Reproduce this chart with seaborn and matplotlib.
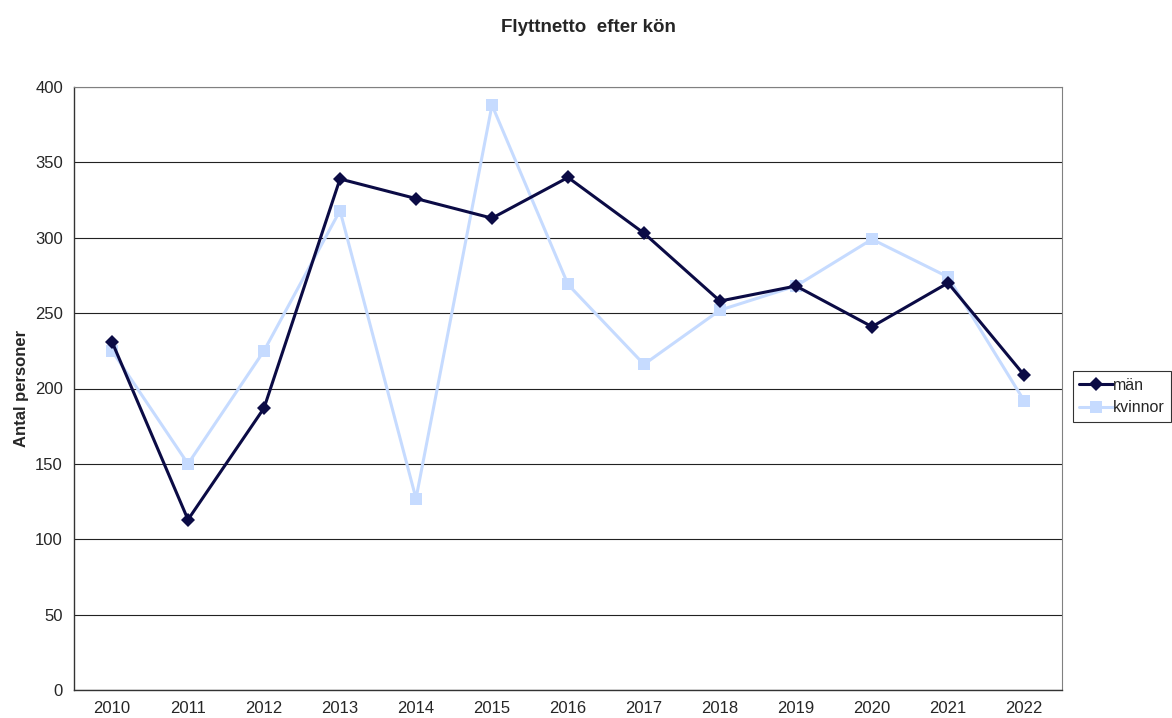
import matplotlib.pyplot as plt
import seaborn as sns
import pandas as pd
import numpy as np

years = ['2010', '2011', '2012', '2013', '2014', '2015', '2016',
         '2017', '2018', '2019', '2020', '2021', '2022']
man = [231, 113, 187, 339, 326, 313, 340, 303, 258, 268, 241, 270, 209]
kvinnor = [225, 150, 225, 318, 127, 388, 269, 216, 252, 268, 299, 274, 192]

sns.set_style('white')
plt.rcParams['font.family'] = ['Liberation Sans', 'DejaVu Sans']

df = pd.DataFrame({
    'pos': list(range(len(years))) * 2,
    'value': man + kvinnor,
    'serie': ['män'] * len(years) + ['kvinnor'] * len(years),
})

fig = plt.figure(figsize=(11.72, 7.18), dpi=100)
ax = fig.add_axes([74 / 1172, 1 - 690 / 718, (1062 - 74) / 1172, (690 - 87) / 718])

palette = {'män': '#0b0b45', 'kvinnor': '#c6dbff'}
sns.lineplot(data=df[df.serie == 'kvinnor'], x='pos', y='value', color=palette['kvinnor'],
             marker='s', markersize=9, markeredgewidth=0, lw=2.2, ax=ax, label='kvinnor')
sns.lineplot(data=df[df.serie == 'män'], x='pos', y='value', color=palette['män'],
             marker='D', markersize=7, markeredgewidth=0, lw=2.2, ax=ax, label='män')

ax.set_xlim(-0.5, len(years) - 0.5)
ax.set_ylim(0, 400)
ax.set_yticks(range(0, 401, 50))
ax.set_xticks(range(len(years)))
ax.set_xticklabels(years)
ax.set_xticks(np.arange(-0.5, len(years), 1), minor=True)
ax.tick_params(axis='x', which='major', length=0, labelsize=12, pad=8)
ax.tick_params(axis='x', which='minor', length=5, width=1, color='#333333', direction='out')
ax.tick_params(axis='y', length=5, width=1, color='#333333', direction='out', labelsize=12, pad=3)
ax.yaxis.grid(True, color='#222222', lw=0.8)
ax.set_axisbelow(True)

for side in ['top', 'right']:
    ax.spines[side].set_color('#808080')
for side in ['left', 'bottom']:
    ax.spines[side].set_color('#333333')
    ax.spines[side].set_linewidth(1)

ax.set_xlabel('')
ax.set_ylabel('Antal personer', fontsize=12, fontweight='bold', labelpad=4)
fig.text(588 / 1172, 1 - 27 / 718, 'Flyttnetto  efter kön', ha='center', va='center',
         fontsize=13.5, fontweight='bold')

handles, labels = ax.get_legend_handles_labels()
ax.get_legend().remove()
order = [labels.index('män'), labels.index('kvinnor')]
leg = fig.legend([handles[i] for i in order], [labels[i] for i in order],
                 loc='center left', bbox_to_anchor=(1073 / 1172, 1 - 396.5 / 718),
                 frameon=True, fancybox=False, edgecolor='black', fontsize=11.5,
                 handlelength=2.1, handletextpad=0.0, borderpad=0.4, labelspacing=0.5,
                 borderaxespad=0)
leg.get_frame().set_linewidth(0.8)

plt.savefig('out.png', dpi=100)
